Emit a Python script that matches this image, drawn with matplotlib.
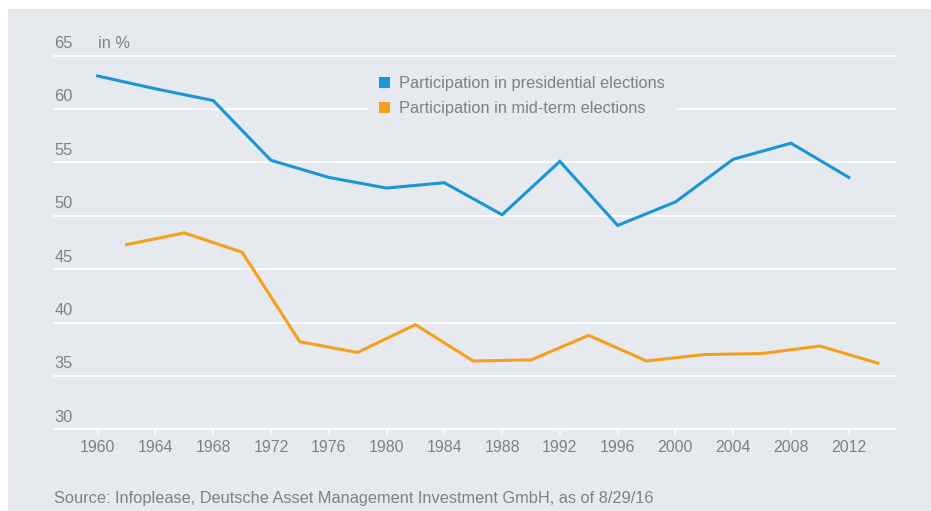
import matplotlib

matplotlib.use("Agg")
import matplotlib.pyplot as plt
from matplotlib.patches import Patch, Rectangle

# ------------------------------------------------------------
# Data (voter participation, in %)
# ------------------------------------------------------------
pres_years = [1960, 1964, 1968, 1972, 1976, 1980, 1984, 1988,
              1992, 1996, 2000, 2004, 2008, 2012]
pres_vals = [63.1, 61.9, 60.8, 55.2, 53.6, 52.6, 53.1, 50.1,
             55.1, 49.1, 51.3, 55.3, 56.8, 53.6]

mid_years = [1962, 1966, 1970, 1974, 1978, 1982, 1986, 1990,
             1994, 1998, 2002, 2006, 2010, 2014]
mid_vals = [47.3, 48.4, 46.6, 38.2, 37.2, 39.8, 36.4, 36.5,
            38.8, 36.4, 37.0, 37.1, 37.8, 36.2]

x_ticks = list(range(1960, 2013, 4))
y_ticks = [30, 35, 40, 45, 50, 55, 60, 65]

labels = ["Participation in presidential elections",
          "Participation in mid-term elections"]
unit_label = "in %"
source = "Source: Infoplease, Deutsche Asset Management Investment GmbH, as of 8/29/16"

BG = "#e6e9ee"
GREY = "#7d8084"
BLUE = "#1a95d5"
ORANGE = "#f5a01d"
FS = 11.8

plt.rcParams["font.family"] = ["Liberation Sans", "DejaVu Sans"]

W, H = 931, 511
fig = plt.figure(figsize=(W / 100, H / 100), dpi=100)
fig.patch.set_facecolor("white")
fig.patches.append(Rectangle((8 / W, 0), 1 - 8 / W, 1 - 9 / H,
                             transform=fig.transFigure,
                             facecolor=BG, edgecolor="none", zorder=-10))

left, right = 54.3 / W, 895 / W
bottom, top = 1 - 429.3 / H, 1 - 55.7 / H
ax = fig.add_axes([left, bottom, right - left, top - bottom])
ax.set_facecolor(BG)

ax.plot(pres_years, pres_vals, color=BLUE, linewidth=2.2,
        solid_joinstyle="miter", zorder=3, clip_on=False)
ax.plot(mid_years, mid_vals, color=ORANGE, linewidth=2.2,
        solid_joinstyle="miter", zorder=3, clip_on=False)

ax.set_xlim(1957.0, 2015.2)
ax.set_ylim(30, 65)

# horizontal white gridlines
for v in y_ticks:
    ax.axhline(v, color="white", linewidth=1.3, zorder=1, clip_on=False)

for s in ax.spines.values():
    s.set_visible(False)

ax.set_xticks(x_ticks)
ax.set_xticklabels([str(y) for y in x_ticks])
ax.tick_params(axis="x", direction="out", length=4.5, width=1.1,
               color="white", labelcolor=GREY, labelsize=11.4, pad=3)
ax.set_yticks([])

# y labels sit above their gridlines, left-aligned
for v in y_ticks:
    ax.annotate(str(v), xy=(0, v), xycoords=("axes fraction", "data"),
                xytext=(0, 5.5), textcoords="offset points",
                ha="left", va="baseline", fontsize=FS, color=GREY)

ax.annotate(unit_label, xy=(0, 65), xycoords=("axes fraction", "data"),
            xytext=(31.5, 5.5), textcoords="offset points",
            ha="left", va="baseline", fontsize=FS, color=GREY)

handles = [Patch(facecolor=BLUE, edgecolor="none"),
           Patch(facecolor=ORANGE, edgecolor="none")]
leg = fig.legend(handles, labels, loc="upper left",
                 bbox_to_anchor=(368 / W, 1 - 65.5 / H),
                 frameon=True, fontsize=FS, labelcolor=GREY,
                 handlelength=0.7, handleheight=0.7,
                 handletextpad=0.55, labelspacing=0.58,
                 borderpad=0.67, borderaxespad=0)
leg.get_frame().set_facecolor(BG)
leg.get_frame().set_edgecolor("none")
leg.get_frame().set_alpha(1)
leg.get_frame().set_boxstyle("square", pad=0)

fig.text(54 / W, 1 - 498 / H, source, ha="left", va="center",
         fontsize=FS, color=GREY)

fig.savefig("out.png", dpi=100, facecolor="white")
